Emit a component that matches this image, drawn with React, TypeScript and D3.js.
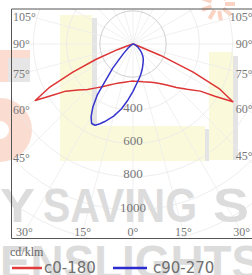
import React from 'react';
import * as d3 from 'd3';

const W = 252;
const H = 275;

// C0-180 (red): angle from nadir (deg, negative = left side), intensity cd/klm
const redAngles = [-90, -80, -75, -72.5, -70, -67.5, -65, -62.5, -60, -57.5, -55, -50, -45, -40, -35, -30, -25, -20, -15, -10, -5, 0, 5, 10, 15, 20, 25, 30, 35, 40, 45, 50, 55, 57.5, 60, 62.5, 65, 67.5, 70, 72.5, 75, 80, 90];
const redValues = [0, 5, 10, 25, 100, 240, 400, 570, 680, 575, 495, 430, 388, 345, 312, 285, 265, 250, 240, 232, 226, 223, 226, 230, 236, 243, 255, 270, 292, 325, 370, 425, 495, 585, 695, 590, 400, 180, 30, 10, 5, 3, 0];

// C90-270 (blue)
const blueAngles = [-90, -70, -60, -55, -50, -45, -40, -35, -32.5, -30, -27.5, -25, -22.5, -20, -15, -10, -5, 0, 5, 10, 15, 20, 25, 30, 35, 40, 45, 50, 55, 60, 70, 80, 90];
const blueValues = [0, 3, 10, 20, 40, 80, 190, 375, 450, 505, 540, 540, 520, 497, 450, 396, 337, 285, 242, 212, 186, 162, 140, 123, 108, 90, 72, 53, 40, 28, 14, 6, 0];

const gridValues = [200, 400, 600, 800, 1000, 1200, 1400];
const radialLabels = [400, 600, 800, 1000];
const sideAngleLabels = [105, 90, 75, 60, 45];
const bottomAngleLabels = [-30, -15, 0, 15, 30];
const spokeAngles = d3.range(0, 360, 15);
const legendNames = ['c0-180', 'c90-270'];
const unitLabel = 'cd/klm';

export default function App() {
  const cx = 133;
  const cy = 44;
  const box = { l: 11.5, t: 9, r: 253, b: 238.5 };
  const rScale = d3.scaleLinear().domain([0, 1000]).range([0, 166]);
  const toRad = (deg: number) => (deg * Math.PI) / 180;

  const line = d3
    .lineRadial<[number, number]>()
    .angle((d) => Math.PI - toRad(d[0]))
    .radius((d) => rScale(d[1]))
    .curve(d3.curveLinear);

  const redPath = line(redAngles.map((a, i) => [a, redValues[i]] as [number, number])) || '';
  const bluePath = line(blueAngles.map((a, i) => [a, blueValues[i]] as [number, number])) || '';

  const serif = "'Liberation Serif', 'DejaVu Serif', serif";
  const sans = "'DejaVu Sans', 'Liberation Sans', sans-serif";
  const labelColor = '#777';

  const leftX = box.l + 8;
  const rightX = box.r - 8;
  const sideY = (phi: number, xCol: number) => {
    const dx = Math.abs(xCol - cx);
    const y = cy + dx * Math.cos(toRad(phi)) / Math.sin(toRad(phi));
    return Math.max(17, y);
  };
  const bottomY = 232;
  const bottomX = (phi: number) => {
    const x = cx + (bottomY - cy) * Math.tan(toRad(phi));
    return Math.min(box.r - 11, Math.max(box.l + 11.5, x));
  };

  return (
    <svg width={W} height={H} style={{ position: 'absolute', left: 0, top: 0, background: '#fff' }}>
      <defs>
        <clipPath id="plotClip">
          <rect x={box.l} y={box.t} width={box.r - box.l} height={box.b - box.t} />
        </clipPath>
      </defs>

      {/* watermark background */}
      <g>
        <rect x={0} y={50} width={30} height={32} fill="#fcdcd0" />
        <rect x={8} y={58} width={22} height={24} fill="#e6e6e6" />
        <circle cx={0} cy={130} r={32} fill="#fbdcd0" />
        <circle cx={0} cy={130} r={9} fill="#fff" />
        {d3.range(0, 360, 40).map((a) => (
          <line
            key={'sun' + a}
            x1={218 + 7 * Math.cos(toRad(a))}
            y1={4 + 7 * Math.sin(toRad(a))}
            x2={218 + 17 * Math.cos(toRad(a))}
            y2={4 + 17 * Math.sin(toRad(a))}
            stroke="#fbd3c2"
            strokeWidth={4}
          />
        ))}
        <rect x={92} y={18} width={5} height={108} fill="#e4e4e4" />
        <rect x={60} y={15} width={32} height={146} fill="#fafadb" />
        <rect x={92} y={126} width={113} height={35} fill="#fafadb" />
        <rect x={205} y={129} width={4} height={32} fill="#e4e4e4" />
        <rect x={233} y={56} width={5} height={104} fill="#e4e4e4" />
        <rect x={209} y={52} width={24} height={108} fill="#fafadb" />
      </g>

      {/* grid */}
      <g clipPath="url(#plotClip)">
        {spokeAngles.map((a) => (
          <line
            key={'sp' + a}
            x1={cx}
            y1={cy}
            x2={cx + 400 * Math.sin(toRad(a))}
            y2={cy + 400 * Math.cos(toRad(a))}
            stroke="#ececec"
            strokeWidth={0.8}
          />
        ))}
        {gridValues.map((v) => (
          <circle
            key={'c' + v}
            cx={cx}
            cy={cy}
            r={rScale(v)}
            fill="none"
            stroke={v === 200 ? '#cfcfcf' : '#e8e8e8'}
            strokeWidth={v === 200 ? 1 : 0.8}
          />
        ))}
      </g>

      {/* big watermark text */}
      <g fill="#dcdcdc" fontFamily="'Liberation Sans', Arial, sans-serif" fontWeight="bold" fontSize={48}>
        <text x={0} y={222} textLength={35} lengthAdjust="spacingAndGlyphs">Y</text>
        <text x={43} y={222} textLength={154} lengthAdjust="spacingAndGlyphs">SAVING</text>
        <text x={213} y={222} textLength={36} lengthAdjust="spacingAndGlyphs">S</text>
        <text x={0} y={279} textLength={262} lengthAdjust="spacingAndGlyphs">ENSLIGHTS</text>
      </g>

      {/* frame */}
      <g stroke="#555" strokeWidth={1} fill="none">
        <line x1={box.l} y1={box.t} x2={box.r} y2={box.t} />
        <line x1={box.l} y1={box.t} x2={box.l} y2={box.b} />
        <line x1={box.l} y1={box.b} x2={box.r} y2={box.b} />
      </g>

      {/* radial labels */}
      <g fontFamily={serif} fontSize={13} fill={labelColor} textAnchor="middle">
        {radialLabels.map((v) => (
          <text key={'rl' + v} x={cx} y={cy + rScale(v) - 3} dominantBaseline="central">
            {v}
          </text>
        ))}
      </g>

      {/* angle labels */}
      <g fontFamily={serif} fontSize={12} fill={labelColor}>
        {sideAngleLabels.map((a) => (
          <text key={'la' + a} x={box.l + 1.5} y={sideY(a, leftX)} dominantBaseline="central">
            {a}°
          </text>
        ))}
        {sideAngleLabels.map((a) => (
          <text key={'ra' + a} x={box.r - 0.5} y={sideY(a, rightX)} dominantBaseline="central" textAnchor="end">
            {a}°
          </text>
        ))}
        {bottomAngleLabels.map((a) => (
          <text key={'ba' + a} x={bottomX(a)} y={bottomY} dominantBaseline="central" textAnchor="middle">
            {Math.abs(a)}°
          </text>
        ))}
      </g>

      {/* curves */}
      <g transform={`translate(${cx},${cy})`} fill="none" strokeLinejoin="round">
        <path d={redPath} stroke="#dd3535" strokeWidth={1.5} />
        <path d={bluePath} stroke="#3535cc" strokeWidth={1.5} />
      </g>

      {/* legend */}
      <text x={10} y={252} fontFamily={serif} fontSize={12} fill="#666" dominantBaseline="central">
        {unitLabel}
      </text>
      <line x1={12} y1={268} x2={42} y2={268} stroke="#e23b3b" strokeWidth={2.5} />
      <text x={44} y={268} fontFamily={sans} fontSize={15} fill="#707070" dominantBaseline="central">
        {legendNames[0]}
      </text>
      <line x1={113} y1={268} x2={147} y2={268} stroke="#2b2bd0" strokeWidth={2.5} />
      <text x={153} y={268} fontFamily={sans} fontSize={15} fill="#707070" dominantBaseline="central">
        {legendNames[1]}
      </text>
    </svg>
  );
}
